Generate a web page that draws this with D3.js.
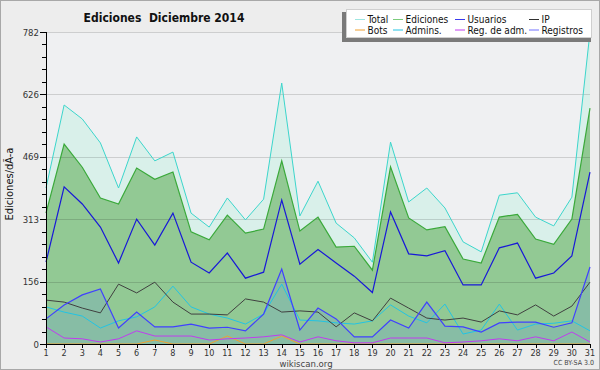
<!DOCTYPE html>
<html>
<head>
<meta charset="utf-8">
<script src="https://cdn.jsdelivr.net/npm/d3@7"></script>
<style>
  body { margin: 0; background: #fff; }
  svg { display: block; font-family: "DejaVu Sans Condensed", "DejaVu Sans", sans-serif; }
</style>
</head>
<body>
<script>
// data
var days = [1,2,3,4,5,6,7,8,9,10,11,12,13,14,15,16,17,18,19,20,21,22,23,24,25,26,27,28,29,30,31];
var total     = [391,599,564,504,391,519,459,481,328,293,366,311,363,654,321,408,303,266,205,506,356,391,341,256,231,373,379,318,296,368,782];
var ediciones = [328,501,443,366,351,441,413,431,281,261,323,278,288,459,283,318,243,245,185,444,316,286,294,213,203,318,325,263,250,313,591];
var usuarios  = [205,394,351,293,203,313,248,328,205,178,228,165,180,361,200,237,203,170,129,331,226,221,234,148,148,241,253,165,178,221,431];
var ip        = [110,105,90,78,150,128,155,105,75,75,73,113,105,80,83,80,43,78,58,115,90,65,60,65,55,83,73,98,70,95,155];
var bots      = [0,0,0,0,0,0,10,0,0,0,20,0,0,20,0,0,0,0,0,0,0,0,0,0,0,0,0,0,0,0,0];
var admins    = [93,80,70,40,58,68,93,145,93,75,65,50,75,150,60,58,53,50,58,98,70,53,100,25,35,100,35,50,52,58,33];
var regAdm    = [43,15,13,5,13,33,20,20,20,10,13,15,18,23,5,18,8,3,3,15,15,15,3,5,8,13,8,18,8,30,5];
var registros = [63,98,123,138,40,80,43,43,50,40,42,33,75,188,35,90,63,18,18,60,40,105,45,43,30,53,55,55,42,53,193];
var yTicks = [0,156,313,469,626,782];
var yMax = 782;

var W = 600, H = 370;
var pLeft = 46, pRight = 590, pTop = 32, pBottom = 344;

var svg = d3.select("body")
  .append("svg")
    .attr("width", W)
    .attr("height", H);

// figure background + border
svg.append("rect")
  .attr("x", 0.5).attr("y", 0.5)
  .attr("width", W - 1).attr("height", H - 1)
  .attr("fill", "#ededed").attr("stroke", "#a8a8a8");

var x = d3.scaleLinear().domain([1, 31]).range([pLeft, pRight]);
var y = d3.scaleLinear().domain([0, yMax]).range([pBottom, pTop]);

// plot background
svg.append("rect")
  .attr("x", pLeft).attr("y", pTop)
  .attr("width", pRight - pLeft).attr("height", pBottom - pTop)
  .attr("fill", "#eff0f2");

function area(vals) {
  return d3.area()
    .x(function(d, i) { return x(days[i]); })
    .y0(y(0))
    .y1(function(d) { return y(d); })(vals);
}
function line(vals) {
  return d3.line()
    .x(function(d, i) { return x(days[i]); })
    .y(function(d) { return y(d); })(vals);
}

// filled areas
svg.append("path").attr("d", area(total)).attr("fill", "#d9f0ea");
svg.append("path").attr("d", area(ediciones)).attr("fill", "#92c994");
svg.append("path").attr("d", area(registros)).attr("fill", "rgba(80,130,255,0.16)");

// grid lines
svg.append("g").selectAll("line")
  .data(yTicks)
  .enter().append("line")
    .attr("x1", pLeft).attr("x2", pRight)
    .attr("y1", function(d) { return Math.round(y(d)) + 0.5; })
    .attr("y2", function(d) { return Math.round(y(d)) + 0.5; })
    .attr("stroke", "rgba(0,0,0,0.14)");

// lines
var series = [
  { vals: total,     color: "#3cd6cc", w: 1 },
  { vals: ediciones, color: "#3aa93a", w: 1.2 },
  { vals: bots,      color: "#f0a030", w: 1 },
  { vals: regAdm,    color: "#c03cf0", w: 1 },
  { vals: admins,    color: "#22c4e4", w: 1 },
  { vals: ip,        color: "#404040", w: 1 },
  { vals: registros, color: "#4040ff", w: 1.2 },
  { vals: usuarios,  color: "#1818d8", w: 1.2 }
];
series.forEach(function(s) {
  svg.append("path")
    .attr("d", line(s.vals))
    .attr("fill", "none")
    .attr("stroke", s.color)
    .attr("stroke-width", s.w);
});

// y axis
var minor = d3.range(0, 26).map(function(i) { return yMax * i / 25; });
svg.append("g").selectAll("line")
  .data(minor)
  .enter().append("line")
    .attr("x1", function(d, i) { return i % 5 == 0 ? pLeft - 6 : pLeft - 4; })
    .attr("x2", pLeft)
    .attr("y1", function(d) { return Math.round(y(d)) + 0.5; })
    .attr("y2", function(d) { return Math.round(y(d)) + 0.5; })
    .attr("stroke", "#000");
svg.append("line")
  .attr("x1", pLeft + 0.5).attr("x2", pLeft + 0.5)
  .attr("y1", pTop).attr("y2", pBottom + 1)
  .attr("stroke", "#000");
svg.append("g").selectAll("text")
  .data(yTicks)
  .enter().append("text")
    .attr("x", pLeft - 7)
    .attr("y", function(d) { return y(d) + 3.5; })
    .attr("text-anchor", "end")
    .attr("font-size", 9.5)
    .attr("fill", "#333")
    .text(function(d) { return d; });

// x axis
svg.append("line")
  .attr("x1", pLeft).attr("x2", pRight)
  .attr("y1", pBottom + 0.5).attr("y2", pBottom + 0.5)
  .attr("stroke", "#000");
svg.append("g").selectAll("line")
  .data(days)
  .enter().append("line")
    .attr("x1", function(d) { return Math.round(x(d)) + 0.5; })
    .attr("x2", function(d) { return Math.round(x(d)) + 0.5; })
    .attr("y1", pBottom).attr("y2", pBottom + 4)
    .attr("stroke", "#000");
svg.append("g").selectAll("text")
  .data(days)
  .enter().append("text")
    .attr("x", function(d) { return x(d); })
    .attr("y", pBottom + 11.5)
    .attr("text-anchor", "middle")
    .attr("font-size", 9)
    .attr("fill", "#333")
    .text(function(d) { return d; });

// titles
svg.append("text")
  .attr("x", 164).attr("y", 22)
  .attr("text-anchor", "middle")
  .attr("font-size", 12).attr("font-weight", "bold")
  .attr("fill", "#111")
  .attr("xml:space", "preserve")
  .text("Ediciones  Diciembre 2014");

svg.append("text")
  .attr("transform", "translate(13,184) rotate(-90)")
  .attr("text-anchor", "middle")
  .attr("font-size", 11)
  .attr("fill", "#111")
  .text("Ediciones/dÃ-a");

svg.append("text")
  .attr("x", 306).attr("y", 367)
  .attr("text-anchor", "middle")
  .attr("font-size", 9.5)
  .attr("fill", "#444")
  .text("wikiscan.org");

svg.append("text")
  .attr("x", 594).attr("y", 365)
  .attr("text-anchor", "end")
  .attr("font-size", 7)
  .attr("fill", "#444")
  .text("CC BY-SA 3.0");

// legend
var legendNames = ["Total", "Ediciones", "Usuarios", "IP", "Bots", "Admins.", "Reg. de adm.", "Registros"];
var legendColors = ["#9ee6e0", "#7ccc7c", "#3a3aee", "#303030", "#f0a030", "#22c4e4", "#c03cf0", "#7070ff"];
var colX = [355, 393, 455, 529];

svg.append("rect")
  .attr("x", 342).attr("y", 12)
  .attr("width", 249).attr("height", 30)
  .attr("fill", "#7a7a7a");
svg.append("rect")
  .attr("x", 346.5).attr("y", 9.5)
  .attr("width", 245).attr("height", 28)
  .attr("fill", "#fff").attr("stroke", "#cfcfcf");

var leg = svg.append("g").selectAll("g")
  .data(legendNames)
  .enter().append("g")
    .attr("transform", function(d, i) {
      return "translate(" + colX[i % 4] + "," + (i < 4 ? 19 : 29.5) + ")";
    });
leg.append("line")
  .attr("x1", 0).attr("x2", 10)
  .attr("y1", 0.5).attr("y2", 0.5)
  .attr("stroke", function(d, i) { return legendColors[i]; });
leg.append("text")
  .attr("x", 12.5).attr("y", 4)
  .attr("font-size", 10)
  .attr("fill", "#111")
  .text(function(d) { return d; });
</script>
</body>
</html>
